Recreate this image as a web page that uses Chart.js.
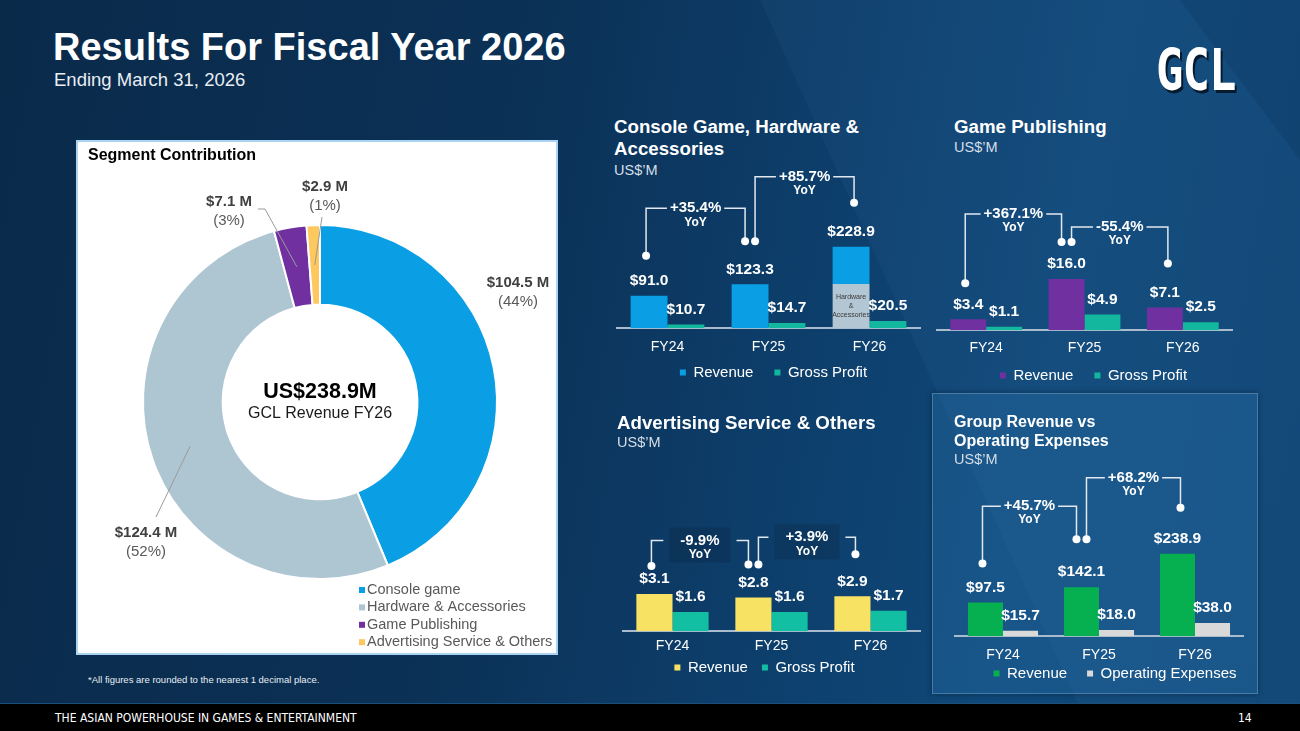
<!DOCTYPE html>
<html>
<head>
<meta charset="utf-8">
<script src="https://cdn.jsdelivr.net/npm/chart.js@4.4.1/dist/chart.umd.min.js"></script>
<style>
  html, body { margin: 0; padding: 0; }
  body {
    width: 1300px; height: 731px; overflow: hidden; position: relative;
    font-family: 'Liberation Sans', Arial, sans-serif; color: #fff;
    background: linear-gradient(100deg, #0a2a4a 0%, #0b3156 38%, #0d3d69 58%, #0f4879 78%, #0e4473 100%);
  }
  .abs { position: absolute; }
  .streak { position: absolute; left: 0; top: 0; width: 1300px; height: 731px; pointer-events: none; }
  .s1 { background: rgba(120, 180, 230, 0.05); clip-path: polygon(760px 0, 1300px 0, 1300px 731px, 1090px 731px); }
  .s2 { background: rgba(0, 10, 30, 0.10); clip-path: polygon(1180px 0, 1300px 0, 1300px 160px); }
  .title { left: 53px; top: 27px; font-weight: bold; font-size: 38px; line-height: 40px; white-space: nowrap; }
  .subtitle { left: 54px; top: 70px; font-size: 18.5px; line-height: 20px; color: #e8eef4; white-space: nowrap; }
  .logo { left: 1156px; top: 47px; font-family: 'DejaVu Sans Mono', monospace; font-weight: bold; font-size: 48px;
          letter-spacing: -1px; transform: scale(0.95, 1.2); transform-origin: top left; text-shadow: 2px 2px 0 #061a2e; line-height: 38px; }
  .panel { left: 76px; top: 140px; width: 482px; height: 515px; background: #fff; border: 2px solid #a9d3f0; box-sizing: border-box; }
  .seg-title { left: 88px; top: 146px; color: #000; font-weight: bold; font-size: 16px; white-space: nowrap; }
  .note { left: 88px; top: 674px; font-size: 9.5px; color: #e8eef4; white-space: nowrap; }
  .group-panel { left: 932px; top: 393px; width: 326px; height: 301px; background: rgba(45, 115, 170, 0.32);
                 border: 1px solid rgba(150, 195, 230, 0.35); box-sizing: border-box; box-shadow: 0 0 6px rgba(0,0,0,0.35); }
  .h { font-weight: bold; font-size: 18.7px; line-height: 22px; white-space: nowrap; }
  .unit { font-size: 14.5px; color: #d6dee7; line-height: 16px; white-space: nowrap; }
  .footer { left: 0; top: 703px; width: 1300px; height: 28px; background: #000; border-top: 1px solid #1a4f7c; box-sizing: border-box; }
  .foot-text { left: 55px; top: 711px; font-family: 'Liberation Sans Narrow', 'DejaVu Sans Condensed', sans-serif; font-size: 12px; color: #fff; white-space: nowrap; }
  .page { left: 1238px; top: 711px; font-family: 'Liberation Sans Narrow', 'DejaVu Sans Condensed', sans-serif; font-size: 12px; }
  canvas { position: absolute; }
</style>
</head>
<body>
<div class="streak s1"></div>
<div class="streak s2"></div>

<div class="abs title">Results For Fiscal Year 2026</div>
<div class="abs subtitle">Ending March 31, 2026</div>
<div class="abs logo">GCL</div>

<div class="abs panel"></div>
<canvas id="donut" width="482" height="515" style="left:76px;top:140px;width:482px;height:515px"></canvas>
<div class="abs seg-title">Segment Contribution</div>
<div class="abs note">*All figures are rounded to the nearest 1 decimal place.</div>

<div class="abs h" style="left:614px;top:116px">Console Game, Hardware &amp;<br>Accessories</div>
<div class="abs unit" style="left:614px;top:162px">US$’M</div>
<canvas id="c1" width="325" height="263" style="left:605px;top:150px;width:325px;height:263px"></canvas>

<div class="abs h" style="left:954px;top:116px">Game Publishing</div>
<div class="abs unit" style="left:954px;top:139px">US$’M</div>
<canvas id="c2" width="310" height="218" style="left:930px;top:195px;width:310px;height:218px"></canvas>

<div class="abs h" style="left:617px;top:412px">Advertising Service &amp; Others</div>
<div class="abs unit" style="left:617px;top:434px">US$’M</div>
<canvas id="c3" width="320" height="201" style="left:610px;top:500px;width:320px;height:201px"></canvas>

<div class="abs group-panel"></div>
<div class="abs h" style="left:954px;top:412px;font-size:16px;line-height:19px">Group Revenue vs<br>Operating Expenses</div>
<div class="abs unit" style="left:954px;top:451px">US$’M</div>
<canvas id="c4" width="340" height="255" style="left:925px;top:465px;width:340px;height:255px"></canvas>

<div class="abs footer"></div>
<div class="abs foot-text">THE ASIAN POWERHOUSE IN GAMES &amp; ENTERTAINMENT</div>
<div class="abs page">14</div>

<script>
// ---- data ----
const years = ['FY24', 'FY25', 'FY26'];

const segmentLabels = ['Console game', 'Hardware & Accessories', 'Game Publishing', 'Advertising Service & Others'];
const segmentValues = [104.5, 124.4, 7.1, 2.9];
const segmentShares = ['44%', '52%', '3%', '1%'];
const segmentColors = ['#0a9fe4', '#aec5d2', '#7030a0', '#fdc85e'];
const totalRevenueFY26 = 238.9;

const consoleRevenue = [91.0, 123.3, 228.9];
const consoleHardwarePart = [null, null, 124.4];
const consoleGrossProfit = [10.7, 14.7, 20.5];
const consoleYoY = ['+35.4%', '+85.7%'];

const publishingRevenue = [3.4, 16.0, 7.1];
const publishingGrossProfit = [1.1, 4.9, 2.5];
const publishingYoY = ['+367.1%', '-55.4%'];

const advertisingRevenue = [3.1, 2.8, 2.9];
const advertisingGrossProfit = [1.6, 1.6, 1.7];
const advertisingYoY = ['-9.9%', '+3.9%'];

const groupRevenue = [97.5, 142.1, 238.9];
const groupOpex = [15.7, 18.0, 38.0];
const groupYoY = ['+45.7%', '+68.2%'];

const FONT = "'Liberation Sans', Arial, sans-serif";
Chart.defaults.font.family = FONT;

// ---- plugins ----

// "$xx.x" labels over the bars
function valueLabels(sets) {
  return {
    id: 'valueLabels',
    afterDatasetsDraw(chart) {
      const ctx = chart.ctx;
      ctx.save();
      ctx.font = 'bold 15.5px ' + FONT;
      ctx.fillStyle = '#fff';
      ctx.textAlign = 'center';
      ctx.textBaseline = 'middle';
      sets.forEach(s => {
        chart.getDatasetMeta(s.dataset).data.forEach((el, i) => {
          ctx.fillText('$' + s.values[i].toFixed(1), el.x, el.y - 15);
        });
      });
      ctx.restore();
    }
  };
}

// bracket lines with dots and the YoY growth text
function yoyBrackets(labels, o) {
  return {
    id: 'yoyBrackets',
    afterDatasetsDraw(chart) {
      const ctx = chart.ctx;
      const els = chart.getDatasetMeta(o.dataset).data;
      ctx.save();
      ctx.lineWidth = 1.5;
      ctx.strokeStyle = '#e2e8ee';
      ctx.textAlign = 'center';
      ctx.textBaseline = 'middle';
      labels.forEach((txt, k) => {
        const a = els[k], b = els[k + 1];
        const x1 = a.x + (k === 0 ? -3 : 5);
        const x2 = b.x + (k === 0 ? -5 : 3);
        const y1 = a.y - o.gaps[k];
        const y2 = b.y - o.gaps[k + 1];
        const lvl = Math.min(y1, y2) - o.rise[k];
        const tx = (x1 + x2) / 2;
        ctx.font = 'bold 15px ' + FONT;
        const w = ctx.measureText(txt).width;
        if (o.box) {
          ctx.fillStyle = 'rgba(8, 28, 52, 0.22)';
          ctx.fillRect(tx - w / 2 - 11, lvl - 13, w + 22, 35);
        }
        ctx.beginPath();
        ctx.moveTo(x1, y1);
        ctx.lineTo(x1, lvl);
        ctx.lineTo(tx - w / 2 - o.gap, lvl);
        ctx.moveTo(tx + w / 2 + o.gap, lvl);
        ctx.lineTo(x2, lvl);
        ctx.lineTo(x2, y2);
        ctx.stroke();
        ctx.fillStyle = '#fff';
        [[x1, y1], [x2, y2]].forEach(p => {
          ctx.beginPath();
          ctx.arc(p[0], p[1], 4, 0, Math.PI * 2);
          ctx.fill();
        });
        ctx.fillText(txt, tx, lvl);
        ctx.font = 'bold 12px ' + FONT;
        ctx.fillText('YoY', tx, lvl + 14);
      });
      ctx.restore();
    }
  };
}

// nudges the bottom legend so it sits tight under the tick labels
function legendShift(dx, dy) {
  return {
    id: 'legendShift',
    afterLayout(chart) {
      const l = chart.legend;
      l.left += dx; l.right += dx;
      l.top += dy; l.bottom += dy;
    }
  };
}

// small caption inside the hardware part of the FY26 bar
const hardwareCaption = {
  id: 'hardwareCaption',
  afterDatasetsDraw(chart) {
    const el = chart.getDatasetMeta(0).data[2];
    const ctx = chart.ctx;
    ctx.save();
    ctx.font = '7px ' + FONT;
    ctx.fillStyle = '#3a3a3a';
    ctx.textAlign = 'center';
    ctx.textBaseline = 'middle';
    const cy = (el.y + el.base) / 2;
    ['Hardware', '&', 'Accessories'].forEach((t, i) => ctx.fillText(t, el.x, cy + (i - 1) * 9));
    ctx.restore();
  }
};

function barChart(id, datasets, o, plugins) {
  return new Chart(document.getElementById(id), {
    type: 'bar',
    data: { labels: years, datasets: datasets },
    options: {
      responsive: false,
      animation: false,
      layout: { padding: { left: o.padL, right: o.padR, top: 0, bottom: 0 } },
      datasets: { bar: { categoryPercentage: 0.73, barPercentage: 1, borderWidth: 0 } },
      scales: {
        x: {
          stacked: true,
          grid: { display: false, drawTicks: false },
          border: { display: true, color: '#a9bccd', width: 2 },
          ticks: { color: '#fff', font: { size: 14 }, padding: o.tickPad }
        },
        y: { stacked: true, display: false, min: 0, max: o.yMax }
      },
      plugins: {
        legend: {
          position: 'bottom',
          labels: {
            color: '#fff', font: { size: 15 }, boxWidth: 6, boxHeight: 6, padding: o.legendPad,
            filter: (item) => item.text !== 'Hardware & Accessories'
          }
        },
        tooltip: { enabled: false }
      }
    },
    plugins: plugins.concat([legendShift(o.legendDx, o.legendDy)])
  });
}

// ---- Console Game, Hardware & Accessories ----
barChart('c1', [
  { label: 'Hardware & Accessories', data: consoleHardwarePart, backgroundColor: '#b3c6d3', stack: 'rev' },
  { label: 'Revenue', data: consoleRevenue.map((v, i) => v - (consoleHardwarePart[i] || 0)), backgroundColor: '#0a9fe4', stack: 'rev' },
  { label: 'Gross Profit', data: consoleGrossProfit, backgroundColor: '#13b79d', stack: 'gp' }
], { padL: 12, padR: 10, tickPad: 11, legendPad: 21, legendDx: 5, legendDy: -23, yMax: 501 }, [
  valueLabels([{ dataset: 1, values: consoleRevenue }, { dataset: 2, values: consoleGrossProfit }]),
  yoyBrackets(consoleYoY, { dataset: 1, gaps: [40, 43, 44], rise: [33, 26], gap: 3 }),
  hardwareCaption
]);

// ---- Game Publishing ----
barChart('c2', [
  { label: 'Revenue', data: publishingRevenue, backgroundColor: '#7030a0', stack: 'rev' },
  { label: 'Gross Profit', data: publishingGrossProfit, backgroundColor: '#13b79d', stack: 'gp' }
], { padL: 7, padR: 8, tickPad: 10, legendPad: 21, legendDx: 9, legendDy: -20, yMax: 42.2 }, [
  valueLabels([{ dataset: 0, values: publishingRevenue }, { dataset: 1, values: publishingGrossProfit }]),
  yoyBrackets(publishingYoY, { dataset: 0, gaps: [36, 37, 44], rise: [28, 15], gap: 3 })
]);

// ---- Advertising Service & Others ----
barChart('c3', [
  { label: 'Revenue', data: advertisingRevenue, backgroundColor: '#f8e264', stack: 'rev' },
  { label: 'Gross Profit', data: advertisingGrossProfit, backgroundColor: '#12bfa2', stack: 'gp' }
], { padL: 13, padR: 10, tickPad: 7, legendPad: 14, legendDx: -7, legendDy: -16, yMax: 10.9 }, [
  valueLabels([{ dataset: 0, values: advertisingRevenue }, { dataset: 1, values: advertisingGrossProfit }]),
  yoyBrackets(advertisingYoY, { dataset: 0, gaps: [28, 33, 42], rise: [24, 17], gap: 17, box: true })
]);

// ---- Group Revenue vs Operating Expenses ----
barChart('c4', [
  { label: 'Revenue', data: groupRevenue, backgroundColor: '#06b050', stack: 'rev' },
  { label: 'Operating Expenses', data: groupOpex, backgroundColor: '#d9d9d9', stack: 'opex' }
], { padL: 30, padR: 22, tickPad: 11, legendPad: 20, legendDx: 16, legendDy: -29, yMax: 496 }, [
  valueLabels([{ dataset: 0, values: groupRevenue }, { dataset: 1, values: groupOpex }]),
  yoyBrackets(groupYoY, { dataset: 0, gaps: [39, 48, 46], rise: [33, 30], gap: 3 })
]);

// ---- Segment contribution doughnut ----
// label anchors are offsets from the doughnut centre; leader lines run to the middle of each ring slice
const donutCallouts = [
  { dx: 198, dy: -119 },
  { dx: -174, dy: 131, leader: [[-164, 115]] },
  { dx: -91, dy: -200, leader: [[-62, -193], [-55, -193]] },
  { dx: 5, dy: -215, leader: [[2, -185]] }
];

const donutText = {
  id: 'donutText',
  afterDatasetsDraw(chart) {
    const ctx = chart.ctx;
    const arcs = chart.getDatasetMeta(0).data;
    const cx = arcs[0].x, cy = arcs[0].y;
    ctx.save();
    ctx.textAlign = 'center';
    ctx.textBaseline = 'middle';
    // centre
    ctx.fillStyle = '#000';
    ctx.font = 'bold 21.5px ' + FONT;
    ctx.fillText('US$' + totalRevenueFY26.toFixed(1) + 'M', cx, cy - 10);
    ctx.fillStyle = '#1a1a1a';
    ctx.font = '16px ' + FONT;
    ctx.fillText('GCL Revenue FY26', cx, cy + 12);
    // callouts
    arcs.forEach((arc, i) => {
      const c = donutCallouts[i];
      if (c.leader) {
        const mid = (arc.startAngle + arc.endAngle) / 2;
        const r = (arc.innerRadius + arc.outerRadius) / 2;
        ctx.strokeStyle = '#9a9a9a';
        ctx.lineWidth = 1;
        ctx.beginPath();
        c.leader.forEach((p, j) => j === 0 ? ctx.moveTo(cx + p[0], cy + p[1]) : ctx.lineTo(cx + p[0], cy + p[1]));
        ctx.lineTo(cx + Math.cos(mid) * r, cy + Math.sin(mid) * r);
        ctx.stroke();
      }
      ctx.fillStyle = '#404040';
      ctx.font = 'bold 15px ' + FONT;
      ctx.fillText('$' + segmentValues[i].toFixed(1) + ' M', cx + c.dx, cy + c.dy);
      ctx.fillStyle = '#595959';
      ctx.font = '15px ' + FONT;
      ctx.fillText('(' + segmentShares[i] + ')', cx + c.dx, cy + c.dy + 19);
    });
    // legend, lower right of the panel
    ctx.textAlign = 'left';
    chart.data.labels.forEach((lab, i) => {
      const y = 450 + i * 17.4;
      ctx.fillStyle = segmentColors[i];
      ctx.fillRect(283, y - 3, 6, 6);
      ctx.fillStyle = '#595959';
      ctx.font = '14.5px ' + FONT;
      ctx.fillText(lab, 291, y);
    });
    ctx.restore();
  }
};

new Chart(document.getElementById('donut'), {
  type: 'doughnut',
  data: {
    labels: segmentLabels,
    datasets: [{
      data: segmentValues,
      backgroundColor: segmentColors,
      borderColor: '#fff',
      borderWidth: 2,
      hoverBorderWidth: 2,
      hoverOffset: 0,
      offset: 0
    }]
  },
  options: {
    responsive: false,
    animation: false,
    cutout: '55%',
    layout: { padding: { left: 66, right: 60, top: 84, bottom: 75 } },
    plugins: { legend: { display: false }, tooltip: { enabled: false } }
  },
  plugins: [donutText]
});
</script>
</body>
</html>
